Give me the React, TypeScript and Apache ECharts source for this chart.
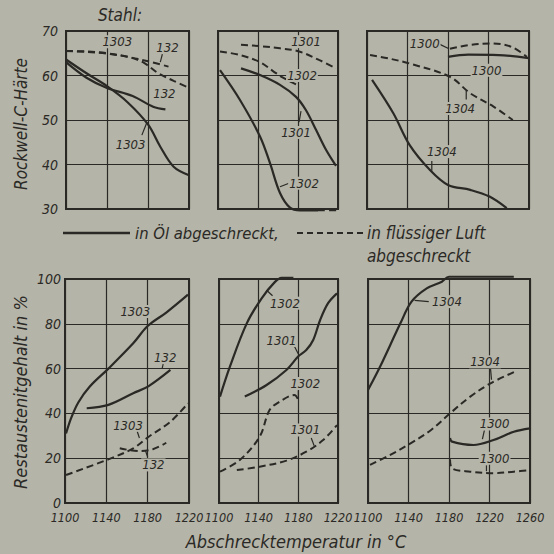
import React, { useEffect, useRef } from 'react';
import * as echarts from 'echarts';

const BG = '#b5b4a8';
const INK = '#2a2925';
const FONT = "'DejaVu Sans Condensed', 'Liberation Sans Narrow', 'DejaVu Sans', sans-serif";

// ---- tick values ----
const hardnessRange = [30, 70];
const hardnessStep = 10;
const retainedRange = [0, 100];
const retainedStep = 20;
const tempMin = 1100;
const tempStep = 40;
const tempMaxNarrow = 1220;
const tempMaxWide = 1260;

// ---- Rockwell-C hardness, panel A (steels 1303, 132) ----
const hA_oil_1303 = [[1100, 63.6], [1120, 60.5], [1140, 57.6], [1160, 54], [1180, 49], [1192, 44], [1205, 39.5], [1220, 37.6]];
const hA_oil_132 = [[1100, 63], [1120, 59.5], [1140, 57.2], [1165, 55.4], [1185, 53], [1197, 52.4]];
const hA_air_1303 = [[1100, 65.5], [1120, 65.4], [1140, 65], [1160, 64.2], [1175, 63], [1190, 60.5], [1205, 58.8], [1220, 57.2]];
const hA_air_132 = [[1100, 65.5], [1120, 65.3], [1140, 64.9], [1160, 64.2], [1180, 63.2], [1200, 62]];

// ---- panel B (steels 1301, 1302) ----
const hB_oil_1301 = [[1123, 61.6], [1142, 60.1], [1162, 57.9], [1178, 55.2], [1188, 52.2], [1198, 47.8], [1208, 43.3], [1218, 39.7]];
const hB_oil_1302 = [[1102, 61.2], [1122, 54.5], [1142, 46.3], [1152, 40.3], [1162, 33.6], [1172, 30.3], [1182, 29.7], [1200, 29.7]];
const hB_air_1301 = [[1123, 66.9], [1142, 66.6], [1162, 66.1], [1181, 65.4], [1201, 63.5], [1218, 61.6]];
const hB_air_1302 = [[1102, 65.4], [1122, 64.6], [1142, 63], [1155, 61], [1165, 59.5], [1178, 58]];
const hB_air_1302_floor = [[1200, 29.7], [1220, 29.7]];

// ---- panel C (steels 1300, 1304) ----
const hC_oil_1300 = [[1180, 64.2], [1200, 64.7], [1230, 64.6], [1260, 63.9]];
const hC_air_1300 = [[1182, 66], [1200, 66.8], [1222, 67.2], [1242, 66.5], [1258, 64.2]];
const hC_oil_1304 = [[1105, 59], [1126, 51.5], [1142, 44.4], [1162, 38.8], [1180, 35.4], [1202, 34.3], [1221, 32.8], [1238, 30.2]];
const hC_air_1304 = [[1103, 64.6], [1122, 63.8], [1142, 62.7], [1182, 59.7], [1202, 56], [1225, 53], [1244, 50]];

// ---- retained austenite, panel D (steels 1303, 132) ----
const rD_oil_1303 = [[1101, 31], [1106, 38], [1113, 45], [1124, 52], [1142, 60], [1166, 71.3], [1180, 79], [1198, 85], [1219, 93]];
const rD_oil_132 = [[1121, 42.3], [1142, 43.8], [1166, 49], [1181, 52.2], [1202, 59.4]];
const rD_air_1303 = [[1101, 12.5], [1142, 19.5], [1166, 24.4], [1181, 29.6], [1202, 36.3], [1219, 44.5]];
const rD_air_132 = [[1153, 24.4], [1172, 23.2], [1185, 24], [1198, 26.9]];

// ---- panel E (steels 1301, 1302) ----
const rE_oil_1302 = [[1101, 47.5], [1111, 60.9], [1128, 80.2], [1143, 91.4], [1156, 98.5], [1163, 100.5], [1175, 100.5]];
const rE_oil_1301 = [[1126, 47.5], [1148, 52.7], [1168, 59.4], [1180, 65.5], [1188, 68.3], [1195, 72.8], [1202, 81.7], [1210, 89.2], [1219, 93.6]];
const rE_air_1302 = [[1101, 14], [1121, 19.2], [1141, 29.6], [1151, 41.5], [1161, 45.2], [1176, 48.2], [1180, 46]];
const rE_air_1301 = [[1118, 14.7], [1141, 16.2], [1168, 18.9], [1188, 22.9], [1205, 28.1], [1219, 34.8]];

// ---- panel F (steels 1300, 1304) ----
const rF_oil_1304 = [[1100, 50.4], [1112, 60.9], [1132, 80.2], [1143, 89.9], [1158, 95.8], [1173, 98.8], [1180, 101], [1244, 101]];
const rF_air_1304 = [[1102, 17], [1122, 21.5], [1142, 26.6], [1162, 32.5], [1181, 40], [1201, 47.5], [1221, 53.4], [1245, 58.6]];
const rF_oil_1300 = [[1181, 29], [1183, 27.4], [1204, 25.9], [1224, 28.1], [1244, 31.8], [1260, 33.3]];
const rF_air_1300 = [[1181, 19.5], [1183, 15.5], [1201, 14], [1224, 13.3], [1244, 14], [1260, 14.7]];

// ---- curve labels: [panel, temp, value, text, leader from (t,v) to (t,v)] ----
const curveLabels: [number, number, number, string, number[] | null][] = [
  [0, 1150, 67.6, '1303', null],
  [0, 1199, 66.4, '132', [1194, 64.8, 1192, 63]],
  [0, 1196, 56, '132', null],
  [0, 1163, 44.6, '1303', [1174, 46.6, 1179, 49.5]],
  [1, 1188, 67.6, '1301', null],
  [1, 1184, 60, '1302', null],
  [1, 1178, 47.2, '1301', [1181, 49.5, 1183, 52]],
  [1, 1186, 35.8, '1302', [1171, 35.8, 1162, 35]],
  [2, 1157, 67.2, '1300', [1172, 67, 1181, 66]],
  [2, 1218, 61.2, '1300', null],
  [2, 1192, 52.6, '1304', [1198, 54.6, 1198, 56.6]],
  [2, 1174, 42.9, '1304', [1164, 40.8, 1164, 38.6]],
  [3, 1168, 85.5, '1303', null],
  [3, 1197, 65, '132', [1195, 62, 1194, 60]],
  [3, 1161, 34.8, '1303', [1170, 31.8, 1172, 29]],
  [3, 1185.5, 17, '132', [1180, 20.5, 1178, 23.2]],
  [4, 1166.5, 89.2, '1302', [1154, 92.5, 1148, 95]],
  [4, 1163, 72.5, '1301', [1176, 70, 1180, 66.5]],
  [4, 1187, 53.4, '1302', [1180, 50.2, 1180, 47.6]],
  [4, 1187, 32.6, '1301', [1193, 29, 1196, 25.5]],
  [5, 1178, 89.9, '1304', [1160, 89.9, 1146, 90.5]],
  [5, 1215.6, 63, '1304', [1221, 60, 1222, 55]],
  [5, 1225, 35.3, '1300', [1215, 32.5, 1213, 28.5]],
  [5, 1225, 20, '1300', [1217, 16.8, 1217, 14.2]],
];

const gridBoxes = [
  { left: 66, top: 31, width: 123, height: 178 },
  { left: 218, top: 31, width: 120, height: 178 },
  { left: 367, top: 31, width: 162, height: 178 },
  { left: 65, top: 279, width: 124, height: 224 },
  { left: 219, top: 279, width: 119, height: 224 },
  { left: 368, top: 279, width: 162, height: 224 },
];

type S = { data: number[][]; g: number; dashed: boolean; clip?: boolean };
const curves: S[] = [
  { data: hA_oil_1303, g: 0, dashed: false },
  { data: hA_oil_132, g: 0, dashed: false },
  { data: hA_air_1303, g: 0, dashed: true },
  { data: hA_air_132, g: 0, dashed: true },
  { data: hB_oil_1301, g: 1, dashed: false },
  { data: hB_oil_1302, g: 1, dashed: false, clip: false },
  { data: hB_air_1301, g: 1, dashed: true },
  { data: hB_air_1302, g: 1, dashed: true },
  { data: hB_air_1302_floor, g: 1, dashed: true, clip: false },
  { data: hC_oil_1300, g: 2, dashed: false },
  { data: hC_air_1300, g: 2, dashed: true },
  { data: hC_oil_1304, g: 2, dashed: false },
  { data: hC_air_1304, g: 2, dashed: true },
  { data: rD_oil_1303, g: 3, dashed: false },
  { data: rD_oil_132, g: 3, dashed: false },
  { data: rD_air_1303, g: 3, dashed: true },
  { data: rD_air_132, g: 3, dashed: true },
  { data: rE_oil_1302, g: 4, dashed: false, clip: false },
  { data: rE_oil_1301, g: 4, dashed: false },
  { data: rE_air_1302, g: 4, dashed: true },
  { data: rE_air_1301, g: 4, dashed: true },
  { data: rF_oil_1304, g: 5, dashed: false, clip: false },
  { data: rF_air_1304, g: 5, dashed: true },
  { data: rF_oil_1300, g: 5, dashed: false },
  { data: rF_air_1300, g: 5, dashed: true },
];

const txt = (size: number) => ({ fontStyle: 'italic', fontSize: size, fontFamily: FONT, fill: INK });

export default function App() {
  const ref = useRef<HTMLDivElement>(null);
  useEffect(() => {
    const chart = echarts.init(ref.current!, undefined, { renderer: 'svg' });
    const xMax = [tempMaxNarrow, tempMaxNarrow, tempMaxWide, tempMaxNarrow, tempMaxNarrow, tempMaxWide];
    const option: any = {
      animation: false,
      backgroundColor: BG,
      grid: gridBoxes.map((b) => ({ ...b, show: true, borderColor: INK, borderWidth: 2, backgroundColor: 'transparent' })),
      xAxis: gridBoxes.map((_, i) => ({
        type: 'value', gridIndex: i, min: tempMin, max: xMax[i], interval: tempStep,
        axisLine: { show: false }, axisTick: { show: false },
        splitLine: { show: true, lineStyle: { color: INK, width: 1.2 } },
        axisLabel: {
          show: i >= 3, margin: 8, fontStyle: 'italic', fontSize: 12.5, fontFamily: FONT, color: INK,
          showMinLabel: true, showMaxLabel: true, formatter: (v: number) => String(v),
        },
      })),
      yAxis: gridBoxes.map((_, i) => {
        const top = i < 3;
        return {
          type: 'value', gridIndex: i,
          min: top ? hardnessRange[0] : retainedRange[0],
          max: top ? hardnessRange[1] : retainedRange[1],
          interval: top ? hardnessStep : retainedStep,
          axisLine: { show: false }, axisTick: { show: false },
          splitLine: { show: true, lineStyle: { color: INK, width: 1.2 } },
          axisLabel: {
            show: i === 0 || i === 3, margin: top ? 8 : 4, fontStyle: 'italic', fontSize: 14, fontFamily: FONT, color: INK,
            showMinLabel: true, showMaxLabel: true, formatter: (v: number) => String(v),
          },
        };
      }),
      series: curves.map((c) => ({
        type: 'line', xAxisIndex: c.g, yAxisIndex: c.g, data: c.data,
        smooth: 0.35, showSymbol: false, symbol: 'none', clip: c.clip !== false,
        lineStyle: { color: INK, width: c.dashed ? 2 : 2.2, type: c.dashed ? [7, 4] : 'solid' },
      })),
    };
    chart.setOption(option);

    const graphics: any[] = [];
    curveLabels.forEach(([g, t, v, s, leader]) => {
      const p = chart.convertToPixel({ xAxisIndex: g, yAxisIndex: g } as any, [t, v]) as number[];
      if (leader) {
        const a = chart.convertToPixel({ xAxisIndex: g, yAxisIndex: g } as any, [leader[0], leader[1]]) as number[];
        const b = chart.convertToPixel({ xAxisIndex: g, yAxisIndex: g } as any, [leader[2], leader[3]]) as number[];
        graphics.push({ type: 'line', z: 90, shape: { x1: a[0], y1: a[1], x2: b[0], y2: b[1] }, style: { stroke: INK, lineWidth: 1.2 } });
      }
      graphics.push({
        type: 'text', z: 100, x: p[0], y: p[1],
        style: { text: s, ...txt(13), align: 'center', verticalAlign: 'middle', backgroundColor: BG, padding: [0, 1] },
      });
    });
    // titles
    graphics.push({ type: 'text', x: 120, y: 15, style: { text: 'Stahl:', ...txt(17), align: 'center', verticalAlign: 'middle' } });
    graphics.push({ type: 'text', x: 21, y: 124, rotation: Math.PI / 2, style: { text: 'Rockwell-C-Härte', ...txt(17), align: 'center', verticalAlign: 'middle' } });
    graphics.push({ type: 'text', x: 20, y: 392, rotation: Math.PI / 2, style: { text: 'Restaustenitgehalt in %', ...txt(18), align: 'center', verticalAlign: 'middle' } });
    graphics.push({ type: 'text', x: 296, y: 541, style: { text: 'Abschrecktemperatur in °C', ...txt(18), align: 'center', verticalAlign: 'middle' } });
    // legend
    graphics.push({ type: 'line', shape: { x1: 63, y1: 233, x2: 130, y2: 233 }, style: { stroke: INK, lineWidth: 2.4 } });
    graphics.push({ type: 'text', x: 135, y: 233, style: { text: 'in Öl abgeschreckt,', ...txt(16.5), align: 'left', verticalAlign: 'middle' } });
    graphics.push({ type: 'line', shape: { x1: 297, y1: 233, x2: 363, y2: 233 }, style: { stroke: INK, lineWidth: 2, lineDash: [6, 4] } });
    graphics.push({ type: 'text', x: 367, y: 233, style: { text: 'in flüssiger Luft', ...txt(17), align: 'left', verticalAlign: 'middle' } });
    graphics.push({ type: 'text', x: 367, y: 256, style: { text: 'abgeschreckt', ...txt(17), align: 'left', verticalAlign: 'middle' } });

    chart.setOption({ graphic: graphics });
    return () => chart.dispose();
  }, []);
  return <div ref={ref} style={{ position: 'fixed', left: 0, top: 0, width: 554, height: 554 }} />;
}
